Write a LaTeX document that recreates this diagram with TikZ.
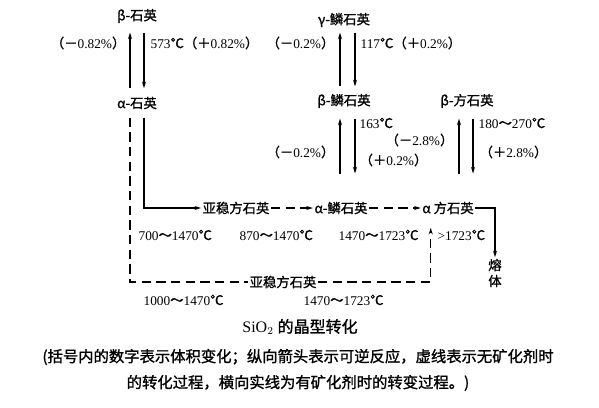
\documentclass[tikz,border=0pt]{standalone}
\usepackage{fontspec}
\setmainfont{Liberation Serif}
\newfontfamily\cjk{Noto Sans CJK SC}[FakeBold=1.2]
\usetikzlibrary{arrows.meta,calc}
\newcommand{\cel}{{\cjk ℃}}
\newcommand{\wave}{{\cjk ～}}
\newcommand{\vol}[2]{{\cjk （#1}#2{\cjk ）}}

\begin{document}
\begin{tikzpicture}[x=0.75pt, y=-0.75pt,
        phase/.style={inner sep=1pt, font=\cjk},
        lbl/.style={inner sep=1pt},
        arrow/.style={-{Stealth[length=5pt,width=3pt]}, line width=0.9pt},
        dline/.style={line width=0.9pt, dash pattern=on 7pt off 4pt},
        darrow/.style={dline, -{Stealth[length=5pt,width=3pt]}}
    ]
        \useasboundingbox (0,0) rectangle (599,407);

        % Quartz
        \node[phase] (bq) at (137,16) {β-石英};
        \node[phase] (aq) at (137,103) {α-石英};
        \node[lbl, anchor=east] (bq-l) at (127,43) {\vol{－}{0.82\%}};
        \node[lbl, anchor=west] (bq-r) at (149,43) {573\cel\vol{＋}{0.82\%}};

        % Tridymite / cristobalite (low temperature)
        \node[phase] (gt) at (344,20) {γ-鳞石英};
        \node[phase] (bt) at (344,101) {β-鳞石英};
        \node[phase] (bc) at (467,101) {β-方石英};
        \node[lbl, anchor=east] (gt-l) at (336,43) {\vol{－}{0.2\%}};
        \node[lbl, anchor=west] (gt-r) at (359,43) {117\cel\vol{＋}{0.2\%}};
        \node[lbl, anchor=west] (bt-t) at (358,123) {163\cel};
        \node[lbl, anchor=east] (bt-l) at (336,152) {\vol{－}{0.2\%}};
        \node[lbl, anchor=west] (bt-r) at (358,160) {\vol{＋}{0.2\%}};
        \node[lbl, anchor=east] (bc-l) at (455,140) {\vol{－}{2.8\%}};
        \node[lbl, anchor=west] (bc-t) at (477,123) {180\wave 270\cel};
        \node[lbl, anchor=west] (bc-r) at (478,152) {\vol{＋}{2.8\%}};

        % High temperature forms
        \node[phase] (mc) at (236,208) {亚稳方石英};
        \node[phase] (at) at (341,208) {α-鳞石英};
        \node[phase] (ac) at (448,208) {α\ 方石英};
        \node[phase, align=center] (melt) at (495,273) {熔\\体};
        \node[phase] (mc2) at (283,282) {亚稳方石英};

        \node[lbl, anchor=west] (t1) at (137,235) {700\wave 1470\cel};
        \node[lbl, anchor=west] (t2) at (238,235) {870\wave 1470\cel};
        \node[lbl, anchor=west] (t3) at (337,235) {1470\wave 1723\cel};
        \node[lbl, anchor=west] (t4) at (436,235) {>1723\cel};
        \node[lbl, anchor=west] (t5) at (142,300) {1000\wave 1470\cel};
        \node[lbl, anchor=west] (t6) at (302,300) {1470\wave 1723\cel};

        % Caption
        \node[font=\large] (title) at (300,327) {SiO$_2$ {\cjk 的晶型转化}};
        \node[font=\cjk\fontsize{11.5}{19.5}\selectfont, align=center] (note) at (298,370)
            {(括号内的数字表示体积变化；纵向箭头表示可逆反应，虚线表示无矿化剂时\\的转化过程，横向实线为有矿化剂时的转变过程。)};

        % Reversible (vertical) arrows
        \draw[arrow] ($(aq.north)+(-7,-7)$) -- ($(bq.south)+(-7,8)$);
        \draw[arrow] ($(bq.south)+(7,8)$) -- ($(aq.north)+(7,-7)$);
        \draw[arrow] ($(bt.north)+(-4,-6)$) -- ($(gt.south)+(-4,4)$);
        \draw[arrow] ($(gt.south)+(11,4)$) -- ($(bt.north)+(11,-6)$);
        \draw[arrow] ($(bt.south)+(-4,64)$) -- ++(0,-55);
        \draw[arrow] ($(bt.south)+(11,9)$) -- ++(0,55);
        \draw[arrow] ($(bc.south)+(-8,64)$) -- ++(0,-55);
        \draw[arrow] ($(bc.south)+(6,9)$) -- ++(0,55);

        % With mineralizer
        \draw[arrow] ($(aq.south)+(7,7)$) |- (mc.west);
        \draw[darrow] (mc.east) -- (at.west);
        \draw[darrow] (at.east) -- (ac.west);
        \draw[arrow] (ac.east) -| (melt.north);

        % Without mineralizer
        \draw[dline] ($(aq.south)+(-7,7)$) |- (mc2.west);
        \draw[darrow] (mc2.east) -| ($(ac.south west)+(10,12)$);

    \end{tikzpicture}
\end{document}
